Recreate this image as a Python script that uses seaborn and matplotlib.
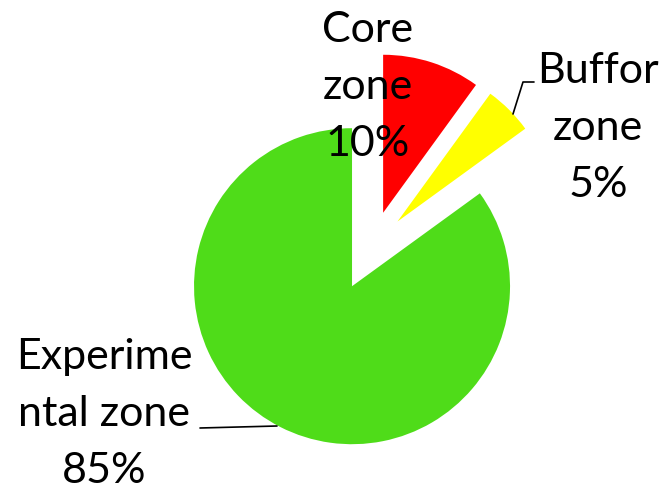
import matplotlib
matplotlib.use("Agg")
import matplotlib.pyplot as plt
import seaborn as sns

sns.set_theme(style="white")
plt.rcParams["font.family"] = ["Lato", "DejaVu Sans"]

# ── Data ─────────────────────────────────────────────────────────────────────
zones = ["Core\nzone", "Buffor\nzone", "Experime\nntal zone"]
shares = [10, 5, 85]
colors = ["#FF0000", "#FFFF00", "#4FDC19"]
explode = [36, 36, 44]  # pixel units, pie is drawn in pixel coords

# ── Figure in pixel coordinates ──────────────────────────────────────────────
W, H = 665, 492
fig = plt.figure(figsize=(W / 100, H / 100), dpi=100)
ax = fig.add_axes([0, 0, 1, 1])

wedges, _ = ax.pie(shares, colors=colors, explode=explode, radius=158,
                   center=(372, H - 247), startangle=90, counterclock=False,
                   frame=True, wedgeprops=dict(linewidth=0))
ax.set_xlim(0, W)
ax.set_ylim(0, H)
ax.axis("off")

# labels (name + percent)
label_pos = [(368, H - 87), (598, H - 128), (104, H - 414)]
for name, val, (x, y) in zip(zones, shares, label_pos):
    ax.text(x, y, f"{name}\n{val}%", ha="center", va="center",
            fontsize=31, color="black", linespacing=1.6)

# leader lines
ax.plot([513, 523, 534], [H - 114, H - 82, H - 82], color="black", lw=1.2)
ax.plot([200, 277], [H - 428, H - 426], color="black", lw=1.2)

fig.savefig("out.png", dpi=100)
plt.close(fig)
